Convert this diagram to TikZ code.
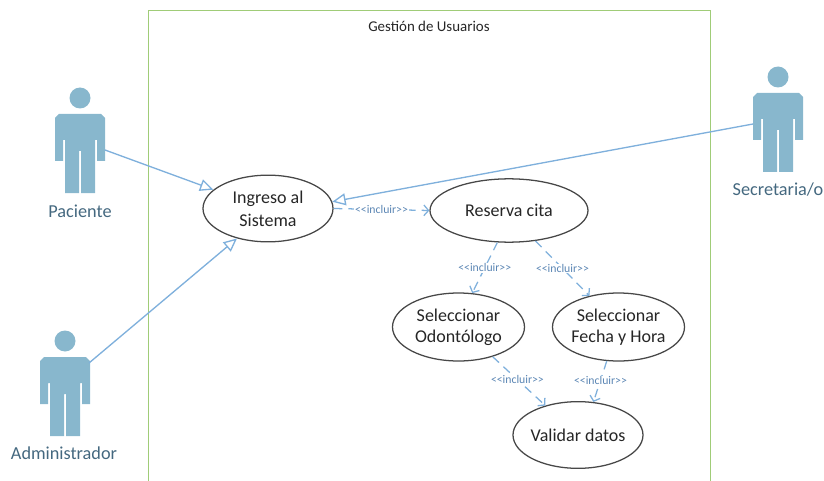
\documentclass[tikz,border=0pt]{standalone}
\usepackage{fontspec}
\setmainfont{Carlito}
\usetikzlibrary{arrows.meta,shapes.geometric}
\definecolor{actorblue}{HTML}{88B7CD}
\definecolor{actortext}{HTML}{44687F}
\definecolor{linkblue}{HTML}{7FB0DC}
\definecolor{labelblue}{HTML}{5B86B4}
\definecolor{framegreen}{HTML}{A0CC78}
\definecolor{ink}{HTML}{262626}
\newcommand{\inclabel}{<{}<incluir>{}>}
\tikzset{
  usecase/.style={draw=ink!85,line width=0.95pt,ellipse,fill=white,minimum width=97.5pt,minimum height=50pt,inner sep=-14pt,align=center,font=\fontsize{13.5}{17}\selectfont,text=ink},
  selcase/.style={usecase,minimum width=99pt,minimum height=51pt,font=\fontsize{13.5}{16}\selectfont},
  assoc/.style={draw=linkblue,line width=1pt,-{Triangle[open,fill=white,length=10pt,width=9pt]}},
  incl/.style={draw=linkblue,line width=0.95pt,dash pattern=on 6.5pt off 4.5pt,-{Straight Barb[length=3.5pt,width=8pt]}},
  incllabel/.style={font=\fontsize{8.8}{10}\selectfont,text=labelblue,fill=white,inner sep=0.5pt},
  actorlabel/.style={font=\fontsize{13.7}{16}\selectfont,text=actortext,inner sep=0pt},
  pics/actor/.style={code={
    \fill[actorblue] (0,0) circle[radius=10.5];
    \fill[actorblue] (-25,20)--(-21,16)--(21,16)--(25,20)--(25,63)--(17,63)--(17,42)--(15,42)--(15,95)--(1,95)--(1,53)--(-1,53)--(-1,95)--(-15,95)--(-15,42)--(-17,42)--(-17,63)--(-25,63)--cycle;
  }}
}
\begin{document}
\begin{tikzpicture}[x=0.75pt,y=-0.75pt]
\useasboundingbox (0,0) rectangle (824,481);
\draw[framegreen,line width=0.75pt] (148,481) -- (148,11) -- (710,11) -- (710,481);
\node[font=\fontsize{11.2}{13}\selectfont,text=ink,inner sep=0pt] (title) at (429,26) {Gestión de Usuarios};
\pic at (80,98) {actor};
\pic at (65,341) {actor};
\pic at (778,77) {actor};
\node[actorlabel] (paclabel) at (80,211) {Paciente};
\node[actorlabel] (admlabel) at (64,453) {Administrador};
\node[actorlabel] (seclabel) at (778,190) {Secretaria/o};
\coordinate (pac) at (105,150);
\coordinate (adm) at (89,363);
\coordinate (sec) at (753,124);
\node[usecase] (ing) at (268,208.5) {Ingreso al\\Sistema};
\node[usecase,minimum width=118.5pt,minimum height=47.5pt] (res) at (509,210.5) {Reserva cita};
\node[selcase] (odo) at (458.5,327) {Seleccionar\\Odontólogo};
\node[selcase] (fec) at (618.5,327) {Seleccionar\\Fecha y Hora};
\node[usecase] (val) at (578,435) {Validar datos};
\draw[assoc] (pac) -- (ing.161);
\draw[assoc] (adm) -- (ing.224);
\draw[assoc] (sec) -- (ing.6);
\draw[incl] (ing.east) -- (res.west) node[incllabel,pos=0.5] (l1) {\inclabel};
\draw[incl] (res.250) -- (odo.68) node[incllabel,pos=0.5] (l2) {\inclabel};
\draw[incl] (res.-49) -- (fec.133) node[incllabel,pos=0.5] (l3) {\inclabel};
\draw[incl] (odo.-41) -- (val.138) node[incllabel,pos=0.47] (l4) {\inclabel};
\draw[incl] (fec.251) -- (val.65) node[incllabel,pos=0.47] (l5) {\inclabel};
\end{tikzpicture}
\end{document}
